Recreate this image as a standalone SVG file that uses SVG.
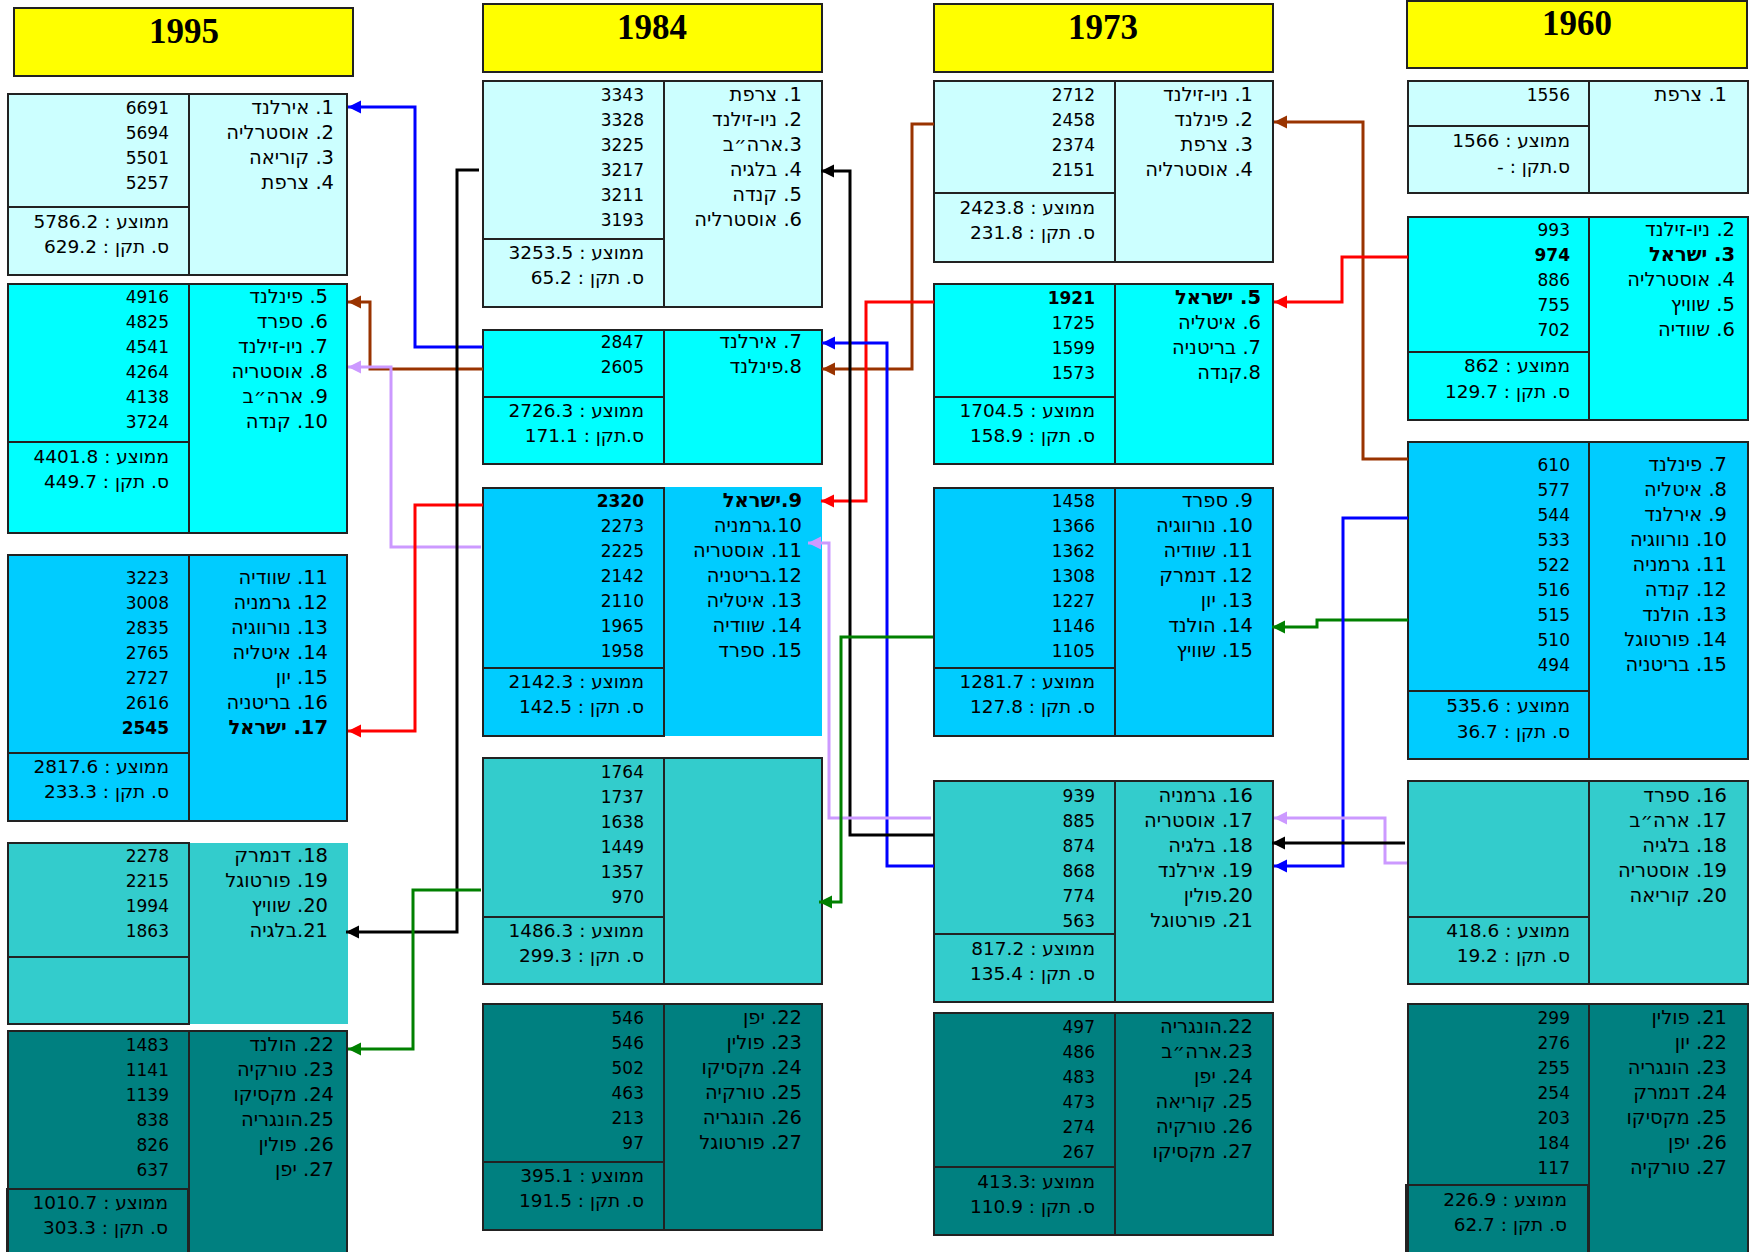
<svg xmlns="http://www.w3.org/2000/svg" width="1749" height="1252" viewBox="0 0 1749 1252">
<style>
text{font-family:"DejaVu Sans","Liberation Sans",sans-serif;fill:#000}
.r{direction:rtl;text-anchor:start;font-size:19.5px}
.s{direction:rtl;text-anchor:start;font-size:18.5px}
.n{text-anchor:end;font-size:17px}
.b{font-weight:bold}
.hdr rect{fill:#FFFF00;stroke:#222;stroke-width:2}
.hdr text{font-family:"Liberation Serif","Times New Roman",serif;font-size:35px;font-weight:bold;text-anchor:middle}
.bx{stroke:#222;stroke-width:2}
.nf{stroke:none}
.ol{fill:none;stroke:#222;stroke-width:2}
.ln{stroke:#222;stroke-width:2}
.c1{fill:#CCFFFF}.c2{fill:#00FFFF}.c3{fill:#00CCFF}.c4{fill:#33CCCC}.c5{fill:#008080}
.cn polyline{fill:none;stroke-width:3}
</style>
<defs>
<marker id="aBlue" markerUnits="userSpaceOnUse" markerWidth="14" markerHeight="14" refX="13" refY="6.5" orient="auto"><path d="M0,0 L13,6.5 L0,13 z" fill="#0000FF"/></marker>
<marker id="aBrown" markerUnits="userSpaceOnUse" markerWidth="14" markerHeight="14" refX="13" refY="6.5" orient="auto"><path d="M0,0 L13,6.5 L0,13 z" fill="#993300"/></marker>
<marker id="aLav" markerUnits="userSpaceOnUse" markerWidth="14" markerHeight="14" refX="13" refY="6.5" orient="auto"><path d="M0,0 L13,6.5 L0,13 z" fill="#CC99FF"/></marker>
<marker id="aRed" markerUnits="userSpaceOnUse" markerWidth="14" markerHeight="14" refX="13" refY="6.5" orient="auto"><path d="M0,0 L13,6.5 L0,13 z" fill="#FF0000"/></marker>
<marker id="aBlack" markerUnits="userSpaceOnUse" markerWidth="14" markerHeight="14" refX="13" refY="6.5" orient="auto"><path d="M0,0 L13,6.5 L0,13 z" fill="#000000"/></marker>
<marker id="aGreen" markerUnits="userSpaceOnUse" markerWidth="14" markerHeight="14" refX="13" refY="6.5" orient="auto"><path d="M0,0 L13,6.5 L0,13 z" fill="#008000"/></marker>
</defs>
<rect x="0" y="0" width="1749" height="1252" fill="#FFFFFF"/>

<!-- Headers -->
<g id="hdr-1995" class="hdr"><rect x="14" y="8" width="339" height="68"/><text x="184" y="43">1995</text></g>
<g id="hdr-1984" class="hdr"><rect x="483" y="4" width="339" height="68"/><text x="652" y="39">1984</text></g>
<g id="hdr-1973" class="hdr"><rect x="934" y="4" width="339" height="68"/><text x="1103" y="39">1973</text></g>
<g id="hdr-1960" class="hdr"><rect x="1407" y="1" width="340" height="67"/><text x="1577" y="35">1960</text></g>

<!-- 1995 -->
<g id="y1995-g1">
<rect class="bx c1" x="8" y="94" width="339" height="181"/>
<line class="ln" x1="189" y1="94" x2="189" y2="275"/><line class="ln" x1="8" y1="207" x2="189" y2="207"/>
<text class="r" x="334" y="114">1. אירלנד</text><text class="r" x="334" y="139">2. אוסטרליה</text><text class="r" x="334" y="164">3. קוריאה</text><text class="r" x="334" y="189">4. צרפת</text>
<text class="n" x="169" y="114">6691</text><text class="n" x="169" y="139">5694</text><text class="n" x="169" y="164">5501</text><text class="n" x="169" y="189">5257</text>
<text class="s" x="169" y="228">ממוצע : 5786.2</text><text class="s" x="169" y="253">ס. תקן : 629.2</text>
</g>
<g id="y1995-g2">
<rect class="bx c2" x="8" y="284" width="339" height="249"/>
<line class="ln" x1="189" y1="284" x2="189" y2="533"/><line class="ln" x1="8" y1="442" x2="189" y2="442"/>
<text class="r" x="328" y="303">5. פינלנד</text><text class="r" x="328" y="328">6. ספרד</text><text class="r" x="328" y="353">7. ניו-זילנד</text><text class="r" x="328" y="378">8. אוסטריה</text><text class="r" x="328" y="403">9. ארה״ב</text><text class="r" x="328" y="428">10. קנדה</text>
<text class="n" x="169" y="303">4916</text><text class="n" x="169" y="328">4825</text><text class="n" x="169" y="353">4541</text><text class="n" x="169" y="378">4264</text><text class="n" x="169" y="403">4138</text><text class="n" x="169" y="428">3724</text>
<text class="s" x="169" y="463">ממוצע : 4401.8</text><text class="s" x="169" y="488">ס. תקן : 449.7</text>
</g>
<g id="y1995-g3">
<rect class="bx c3" x="8" y="555" width="339" height="266"/>
<line class="ln" x1="189" y1="555" x2="189" y2="821"/><line class="ln" x1="8" y1="753" x2="189" y2="753"/>
<text class="r" x="328" y="584">11. שוודיה</text><text class="r" x="328" y="609">12. גרמניה</text><text class="r" x="328" y="634">13. נורווגיה</text><text class="r" x="328" y="659">14. איטליה</text><text class="r" x="328" y="684">15. יון</text><text class="r" x="328" y="709">16. בריטניה</text><text class="r b" x="328" y="734">17. ישראל</text>
<text class="n" x="169" y="584">3223</text><text class="n" x="169" y="609">3008</text><text class="n" x="169" y="634">2835</text><text class="n" x="169" y="659">2765</text><text class="n" x="169" y="684">2727</text><text class="n" x="169" y="709">2616</text><text class="n b" x="169" y="734">2545</text>
<text class="s" x="169" y="773">ממוצע : 2817.6</text><text class="s" x="169" y="798">ס. תקן : 233.3</text>
</g>
<g id="y1995-g4">
<rect class="nf c4" x="8" y="843" width="340" height="181"/>
<rect class="ol" x="8" y="843" width="181" height="181"/>
<line class="ln" x1="8" y1="957" x2="189" y2="957"/>
<text class="r" x="328" y="862">18. דנמרק</text><text class="r" x="328" y="887">19. פורטוגל</text><text class="r" x="328" y="912">20. שוויץ</text><text class="r" x="328" y="937">21.בלגיה</text>
<text class="n" x="169" y="862">2278</text><text class="n" x="169" y="887">2215</text><text class="n" x="169" y="912">1994</text><text class="n" x="169" y="937">1863</text>
</g>
<g id="y1995-g5">
<rect class="bx c5" x="8" y="1031" width="339" height="232"/>
<line class="ln" x1="189" y1="1031" x2="189" y2="1263"/><line class="ln" x1="8" y1="1189" x2="189" y2="1189"/>
<rect class="ol" x="7" y="1189" width="181" height="74"/>
<text class="r" x="334" y="1051">22. הולנד</text><text class="r" x="334" y="1076">23. טורקיה</text><text class="r" x="334" y="1101">24. מקסיקו</text><text class="r" x="334" y="1126">25.הונגריה</text><text class="r" x="334" y="1151">26. פולין</text><text class="r" x="334" y="1176">27. יפן</text>
<text class="n" x="169" y="1051">1483</text><text class="n" x="169" y="1076">1141</text><text class="n" x="169" y="1101">1139</text><text class="n" x="169" y="1126">838</text><text class="n" x="169" y="1151">826</text><text class="n" x="169" y="1176">637</text>
<text class="s" x="168" y="1209">ממוצע : 1010.7</text><text class="s" x="168" y="1234">ס. תקן : 303.3</text>
</g>

<!-- 1984 -->
<g id="y1984-g1">
<rect class="bx c1" x="483" y="81" width="339" height="226"/>
<line class="ln" x1="664" y1="81" x2="664" y2="307"/><line class="ln" x1="483" y1="239" x2="664" y2="239"/>
<text class="r" x="802" y="101">1. צרפת</text><text class="r" x="802" y="126">2. ניו-זילנד</text><text class="r" x="802" y="151">3.ארה״ב</text><text class="r" x="802" y="176">4. בלגיה</text><text class="r" x="802" y="201">5. קנדה</text><text class="r" x="802" y="226">6. אוסטרליה</text>
<text class="n" x="644" y="101">3343</text><text class="n" x="644" y="126">3328</text><text class="n" x="644" y="151">3225</text><text class="n" x="644" y="176">3217</text><text class="n" x="644" y="201">3211</text><text class="n" x="644" y="226">3193</text>
<text class="s" x="644" y="259">ממוצע : 3253.5</text><text class="s" x="644" y="284">ס. תקן : 65.2</text>
</g>
<g id="y1984-g2">
<rect class="bx c2" x="483" y="330" width="339" height="134"/>
<line class="ln" x1="664" y1="330" x2="664" y2="464"/><line class="ln" x1="483" y1="397" x2="664" y2="397"/>
<text class="r" x="802" y="348">7. אירלנד</text><text class="r" x="802" y="373">8.פינלנד</text>
<text class="n" x="644" y="348">2847</text><text class="n" x="644" y="373">2605</text>
<text class="s" x="644" y="417">ממוצע : 2726.3</text><text class="s" x="644" y="442">ס.תקן : 171.1</text>
</g>
<g id="y1984-g3">
<rect class="nf c3" x="483" y="487" width="339" height="249"/>
<rect class="ol" x="483" y="488" width="181" height="248"/>
<line class="ln" x1="483" y1="668" x2="664" y2="668"/>
<text class="r b" x="802" y="507">9.ישראל</text><text class="r" x="802" y="532">10.גרמניה</text><text class="r" x="802" y="557">11. אוסטריה</text><text class="r" x="802" y="582">12.בריטניה</text><text class="r" x="802" y="607">13. איטליה</text><text class="r" x="802" y="632">14. שוודיה</text><text class="r" x="802" y="657">15. ספרד</text>
<text class="n b" x="644" y="507">2320</text><text class="n" x="644" y="532">2273</text><text class="n" x="644" y="557">2225</text><text class="n" x="644" y="582">2142</text><text class="n" x="644" y="607">2110</text><text class="n" x="644" y="632">1965</text><text class="n" x="644" y="657">1958</text>
<text class="s" x="644" y="688">ממוצע : 2142.3</text><text class="s" x="644" y="713">ס. תקן : 142.5</text>
</g>
<g id="y1984-g4">
<rect class="bx c4" x="483" y="758" width="339" height="226"/>
<line class="ln" x1="664" y1="758" x2="664" y2="984"/><line class="ln" x1="483" y1="917" x2="664" y2="917"/>
<text class="n" x="644" y="778">1764</text><text class="n" x="644" y="803">1737</text><text class="n" x="644" y="828">1638</text><text class="n" x="644" y="853">1449</text><text class="n" x="644" y="878">1357</text><text class="n" x="644" y="903">970</text>
<text class="s" x="644" y="937">ממוצע : 1486.3</text><text class="s" x="644" y="962">ס. תקן : 299.3</text>
</g>
<g id="y1984-g5">
<rect class="bx c5" x="483" y="1004" width="339" height="226"/>
<line class="ln" x1="664" y1="1004" x2="664" y2="1230"/><line class="ln" x1="483" y1="1162" x2="664" y2="1162"/>
<text class="r" x="802" y="1024">22. יפן</text><text class="r" x="802" y="1049">23. פולין</text><text class="r" x="802" y="1074">24. מקסיקו</text><text class="r" x="802" y="1099">25. טורקיה</text><text class="r" x="802" y="1124">26. הונגריה</text><text class="r" x="802" y="1149">27. פורטוגל</text>
<text class="n" x="644" y="1024">546</text><text class="n" x="644" y="1049">546</text><text class="n" x="644" y="1074">502</text><text class="n" x="644" y="1099">463</text><text class="n" x="644" y="1124">213</text><text class="n" x="644" y="1149">97</text>
<text class="s" x="644" y="1182">ממוצע : 395.1</text><text class="s" x="644" y="1207">ס. תקן : 191.5</text>
</g>

<!-- 1973 -->
<g id="y1973-g1">
<rect class="bx c1" x="934" y="81" width="339" height="181"/>
<line class="ln" x1="1115" y1="81" x2="1115" y2="262"/><line class="ln" x1="934" y1="193" x2="1115" y2="193"/>
<text class="r" x="1253" y="101">1. ניו-זילנד</text><text class="r" x="1253" y="126">2. פינלנד</text><text class="r" x="1253" y="151">3. צרפת</text><text class="r" x="1253" y="176">4. אוסטרליה</text>
<text class="n" x="1095" y="101">2712</text><text class="n" x="1095" y="126">2458</text><text class="n" x="1095" y="151">2374</text><text class="n" x="1095" y="176">2151</text>
<text class="s" x="1095" y="214">ממוצע : 2423.8</text><text class="s" x="1095" y="239">ס. תקן : 231.8</text>
</g>
<g id="y1973-g2">
<rect class="bx c2" x="934" y="284" width="339" height="180"/>
<line class="ln" x1="1115" y1="284" x2="1115" y2="464"/><line class="ln" x1="934" y1="397" x2="1115" y2="397"/>
<text class="r b" x="1261" y="304">5. ישראל</text><text class="r" x="1261" y="329">6. איטליה</text><text class="r" x="1261" y="354">7. בריטניה</text><text class="r" x="1261" y="379">8.קנדה</text>
<text class="n b" x="1095" y="304">1921</text><text class="n" x="1095" y="329">1725</text><text class="n" x="1095" y="354">1599</text><text class="n" x="1095" y="379">1573</text>
<text class="s" x="1095" y="417">ממוצע : 1704.5</text><text class="s" x="1095" y="442">ס. תקן : 158.9</text>
</g>
<g id="y1973-g3">
<rect class="bx c3" x="934" y="488" width="339" height="248"/>
<line class="ln" x1="1115" y1="488" x2="1115" y2="736"/><line class="ln" x1="934" y1="668" x2="1115" y2="668"/>
<text class="r" x="1253" y="507">9. ספרד</text><text class="r" x="1253" y="532">10. נורווגיה</text><text class="r" x="1253" y="557">11. שוודיה</text><text class="r" x="1253" y="582">12. דנמרק</text><text class="r" x="1253" y="607">13. יון</text><text class="r" x="1253" y="632">14. הולנד</text><text class="r" x="1253" y="657">15. שוויץ</text>
<text class="n" x="1095" y="507">1458</text><text class="n" x="1095" y="532">1366</text><text class="n" x="1095" y="557">1362</text><text class="n" x="1095" y="582">1308</text><text class="n" x="1095" y="607">1227</text><text class="n" x="1095" y="632">1146</text><text class="n" x="1095" y="657">1105</text>
<text class="s" x="1095" y="688">ממוצע : 1281.7</text><text class="s" x="1095" y="713">ס. תקן : 127.8</text>
</g>
<g id="y1973-g4">
<rect class="bx c4" x="934" y="781" width="339" height="221"/>
<line class="ln" x1="1115" y1="781" x2="1115" y2="1002"/><line class="ln" x1="934" y1="934" x2="1115" y2="934"/>
<text class="r" x="1253" y="802">16. גרמניה</text><text class="r" x="1253" y="827">17. אוסטריה</text><text class="r" x="1253" y="852">18. בלגיה</text><text class="r" x="1253" y="877">19. אירלנד</text><text class="r" x="1253" y="902">20.פולין</text><text class="r" x="1253" y="927">21. פורטוגל</text>
<text class="n" x="1095" y="802">939</text><text class="n" x="1095" y="827">885</text><text class="n" x="1095" y="852">874</text><text class="n" x="1095" y="877">868</text><text class="n" x="1095" y="902">774</text><text class="n" x="1095" y="927">563</text>
<text class="s" x="1095" y="955">ממוצע : 817.2</text><text class="s" x="1095" y="980">ס. תקן : 135.4</text>
</g>
<g id="y1973-g5">
<rect class="bx c5" x="934" y="1013" width="339" height="222"/>
<line class="ln" x1="1115" y1="1013" x2="1115" y2="1235"/><line class="ln" x1="934" y1="1167" x2="1115" y2="1167"/>
<text class="r" x="1253" y="1033">22.הונגריה</text><text class="r" x="1253" y="1058">23.ארה״ב</text><text class="r" x="1253" y="1083">24. יפן</text><text class="r" x="1253" y="1108">25. קוריאה</text><text class="r" x="1253" y="1133">26. טורקיה</text><text class="r" x="1253" y="1158">27. מקסיקו</text>
<text class="n" x="1095" y="1033">497</text><text class="n" x="1095" y="1058">486</text><text class="n" x="1095" y="1083">483</text><text class="n" x="1095" y="1108">473</text><text class="n" x="1095" y="1133">274</text><text class="n" x="1095" y="1158">267</text>
<text class="s" x="1095" y="1188">ממוצע :413.3</text><text class="s" x="1095" y="1213">ס. תקן : 110.9</text>
</g>

<!-- 1960 -->
<g id="y1960-g1">
<rect class="bx c1" x="1408" y="81" width="340" height="112"/>
<line class="ln" x1="1589" y1="81" x2="1589" y2="193"/><line class="ln" x1="1408" y1="126" x2="1589" y2="126"/>
<text class="r" x="1727" y="101">1. צרפת</text>
<text class="n" x="1570" y="101">1556</text>
<text class="s" x="1570" y="147">ממוצע : 1566</text><text class="s" x="1570" y="173">ס.תקן : -</text>
</g>
<g id="y1960-g2">
<rect class="bx c2" x="1408" y="217" width="340" height="203"/>
<line class="ln" x1="1589" y1="217" x2="1589" y2="420"/><line class="ln" x1="1408" y1="352" x2="1589" y2="352"/>
<text class="r" x="1735" y="236">2. ניו-זילנד</text><text class="r b" x="1735" y="261">3. ישראל</text><text class="r" x="1735" y="286">4. אוסטרליה</text><text class="r" x="1735" y="311">5. שוויץ</text><text class="r" x="1735" y="336">6. שוודיה</text>
<text class="n" x="1570" y="236">993</text><text class="n b" x="1570" y="261">974</text><text class="n" x="1570" y="286">886</text><text class="n" x="1570" y="311">755</text><text class="n" x="1570" y="336">702</text>
<text class="s" x="1570" y="372">ממוצע : 862</text><text class="s" x="1570" y="398">ס. תקן : 129.7</text>
</g>
<g id="y1960-g3">
<rect class="bx c3" x="1408" y="442" width="340" height="317"/>
<line class="ln" x1="1589" y1="442" x2="1589" y2="759"/><line class="ln" x1="1408" y1="691" x2="1589" y2="691"/>
<text class="r" x="1727" y="471">7. פינלנד</text><text class="r" x="1727" y="496">8. איטליה</text><text class="r" x="1727" y="521">9. אירלנד</text><text class="r" x="1727" y="546">10. נורווגיה</text><text class="r" x="1727" y="571">11. גרמניה</text><text class="r" x="1727" y="596">12. קנדה</text><text class="r" x="1727" y="621">13. הולנד</text><text class="r" x="1727" y="646">14. פורטוגל</text><text class="r" x="1727" y="671">15. בריטניה</text>
<text class="n" x="1570" y="471">610</text><text class="n" x="1570" y="496">577</text><text class="n" x="1570" y="521">544</text><text class="n" x="1570" y="546">533</text><text class="n" x="1570" y="571">522</text><text class="n" x="1570" y="596">516</text><text class="n" x="1570" y="621">515</text><text class="n" x="1570" y="646">510</text><text class="n" x="1570" y="671">494</text>
<text class="s" x="1570" y="712">ממוצע : 535.6</text><text class="s" x="1570" y="738">ס. תקן : 36.7</text>
</g>
<g id="y1960-g4">
<rect class="bx c4" x="1408" y="781" width="340" height="203"/>
<line class="ln" x1="1589" y1="781" x2="1589" y2="984"/><line class="ln" x1="1408" y1="917" x2="1589" y2="917"/>
<text class="r" x="1727" y="802">16. ספרד</text><text class="r" x="1727" y="827">17. ארה״ב</text><text class="r" x="1727" y="852">18. בלגיה</text><text class="r" x="1727" y="877">19. אוסטריה</text><text class="r" x="1727" y="902">20. קוריאה</text>
<text class="s" x="1570" y="937">ממוצע : 418.6</text><text class="s" x="1570" y="962">ס. תקן : 19.2</text>
</g>
<g id="y1960-g5">
<rect class="bx c5" x="1408" y="1004" width="340" height="259"/>
<line class="ln" x1="1589" y1="1004" x2="1589" y2="1263"/><line class="ln" x1="1408" y1="1185" x2="1589" y2="1185"/>
<rect class="ol" x="1406" y="1185" width="182" height="78"/>
<text class="r" x="1727" y="1024">21. פולין</text><text class="r" x="1727" y="1049">22. יון</text><text class="r" x="1727" y="1074">23. הונגריה</text><text class="r" x="1727" y="1099">24. דנמרק</text><text class="r" x="1727" y="1124">25. מקסיקו</text><text class="r" x="1727" y="1149">26. יפן</text><text class="r" x="1727" y="1174">27. טורקיה</text>
<text class="n" x="1570" y="1024">299</text><text class="n" x="1570" y="1049">276</text><text class="n" x="1570" y="1074">255</text><text class="n" x="1570" y="1099">254</text><text class="n" x="1570" y="1124">203</text><text class="n" x="1570" y="1149">184</text><text class="n" x="1570" y="1174">117</text>
<text class="s" x="1567" y="1206">ממוצע : 226.9</text><text class="s" x="1567" y="1231">ס. תקן : 62.7</text>
</g>

<!-- Connectors -->
<g id="connectors" class="cn">
<polyline stroke="#0000FF" points="483,347 415,347 415,107 348,107" marker-end="url(#aBlue)"/>
<polyline stroke="#993300" points="483,369 370,369 370,302 348,302" marker-end="url(#aBrown)"/>
<polyline stroke="#CC99FF" points="481,547 391,547 391,367 348,367" marker-end="url(#aLav)"/>
<polyline stroke="#FF0000" points="483,505 415,505 415,731 348,731" marker-end="url(#aRed)"/>
<polyline stroke="#000000" points="479,170 457,170 457,932 346,932" marker-end="url(#aBlack)"/>
<polyline stroke="#008000" points="481,890 413,890 413,1049 348,1049" marker-end="url(#aGreen)"/>

<polyline stroke="#993300" points="934,124 912,124 912,369 822,369" marker-end="url(#aBrown)"/>
<polyline stroke="#FF0000" points="934,302 866,302 866,501 821,501" marker-end="url(#aRed)"/>
<polyline stroke="#0000FF" points="934,866 887,866 887,343 822,343" marker-end="url(#aBlue)"/>
<polyline stroke="#000000" points="934,835 850,835 850,171 821,171" marker-end="url(#aBlack)"/>
<polyline stroke="#CC99FF" points="931,818 829,818 829,543 808,543" marker-end="url(#aLav)"/>
<polyline stroke="#008000" points="933,637 841,637 841,902 819,902" marker-end="url(#aGreen)"/>

<polyline stroke="#993300" points="1408,459 1363,459 1363,122 1274,122" marker-end="url(#aBrown)"/>
<polyline stroke="#FF0000" points="1408,257 1342,257 1342,302 1274,302" marker-end="url(#aRed)"/>
<polyline stroke="#008000" points="1408,620 1317,620 1317,627 1272,627" marker-end="url(#aGreen)"/>
<polyline stroke="#0000FF" points="1408,518 1343,518 1343,866 1274,866" marker-end="url(#aBlue)"/>
<polyline stroke="#CC99FF" points="1407,863 1385,863 1385,818 1274,818" marker-end="url(#aLav)"/>
<polyline stroke="#000000" points="1405,843 1272,843" marker-end="url(#aBlack)"/>
</g>
</svg>
